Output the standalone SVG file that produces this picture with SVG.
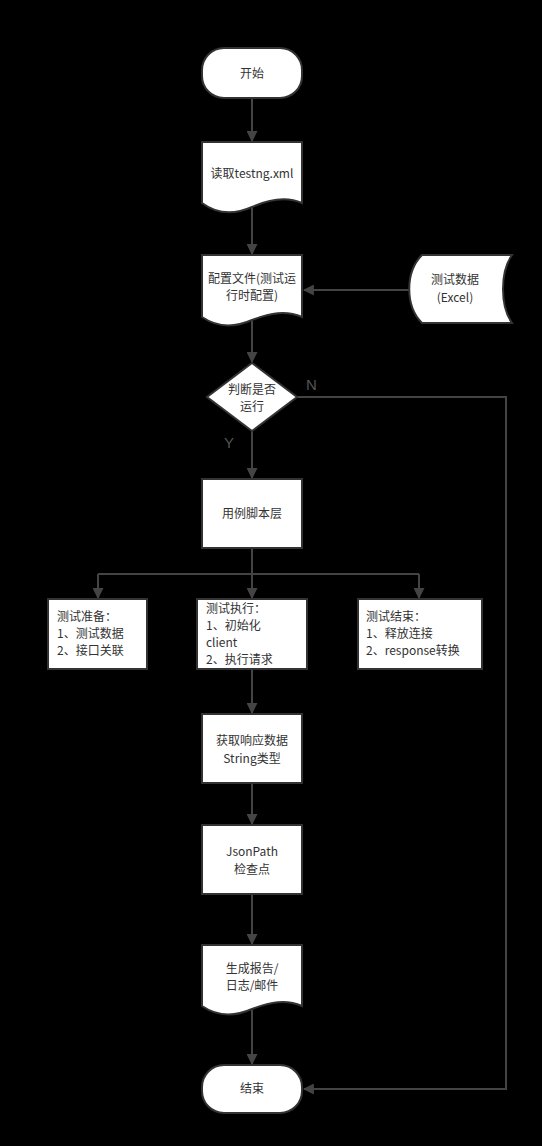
<svg xmlns="http://www.w3.org/2000/svg" width="542" height="1146" viewBox="0 0 542 1146">
<style>
.n{fill:#fff;stroke:#333;stroke-width:2}
.t{font-family:"Noto Sans CJK SC","Liberation Sans",sans-serif;font-size:12px;fill:#333}
.c{text-anchor:middle}
.e{fill:none;stroke:#444;stroke-width:2}
.l{font-family:"Liberation Sans","Noto Sans",sans-serif;font-size:15px;fill:#555}
</style>
<defs>
<marker id="a" viewBox="0 0 10 10" refX="9" refY="5" markerWidth="5.5" markerHeight="5.5" orient="auto" markerUnits="strokeWidth">
<path d="M0,0 L10,5 L0,10 z" fill="#444"/>
</marker>
</defs>
<rect width="542" height="1146" fill="#000"/>
<g id="connectors">
<path class="e" d="M252,98 V141" marker-end="url(#a)"/>
<path class="e" d="M252,208 V254" marker-end="url(#a)"/>
<path class="e" d="M410,290 H304" marker-end="url(#a)"/>
<path class="e" d="M252,321 V362" marker-end="url(#a)"/>
<path class="e" d="M252,431 V478" marker-end="url(#a)"/>
<path class="e" d="M297,397 H506 V1089 H304" marker-end="url(#a)"/>
<path class="e" d="M252,548 V598" marker-end="url(#a)"/>
<path class="e" d="M98,574 H419"/>
<path class="e" d="M98,574 V598" marker-end="url(#a)"/>
<path class="e" d="M419,574 V598" marker-end="url(#a)"/>
<path class="e" d="M252,669 V713" marker-end="url(#a)"/>
<path class="e" d="M252,783 V824" marker-end="url(#a)"/>
<path class="e" d="M252,894 V944" marker-end="url(#a)"/>
<path class="e" d="M252,1010 V1064" marker-end="url(#a)"/>
<text class="l" x="306" y="390">N</text>
<text class="l" x="224" y="448">Y</text>
</g>
<g id="start">
<rect class="n" x="202" y="48" width="100" height="50" rx="22"/>
<text class="t c" x="252" y="78">开始</text>
</g>
<g id="read">
<path class="n" d="M202,142 H302 V203 C286,196 270,199 252,207 C236,214 218,215 202,203 Z"/>
<text class="t c" x="252" y="178">读取testng.xml</text>
</g>
<g id="config">
<path class="n" d="M202,255 H302 V317 C286,310 270,313 252,320 C236,327 218,328 202,317 Z"/>
<text class="t c" x="252" y="283">配置文件(测试运</text>
<text class="t c" x="252" y="300">行时配置)</text>
</g>
<g id="excel">
<path class="n" d="M422,255 H512 C500,272 500,306 512,323 H422 C405,306 405,272 422,255 Z"/>
<text class="t c" x="455" y="284">测试数据</text>
<text class="t c" x="455" y="302">(Excel)</text>
</g>
<g id="decide">
<path class="n" d="M252,363 L297,397 L252,431 L207,397 Z"/>
<text class="t c" x="252" y="394">判断是否</text>
<text class="t c" x="252" y="411">运行</text>
</g>
<g id="script">
<rect class="n" x="202" y="479" width="100" height="69"/>
<text class="t c" x="252" y="518">用例脚本层</text>
</g>
<g id="prep">
<rect class="n" x="48" y="599" width="99" height="70"/>
<text class="t" x="57" y="621">测试准备：</text>
<text class="t" x="57" y="638">1、测试数据</text>
<text class="t" x="57" y="655">2、接口关联</text>
</g>
<g id="exec">
<rect class="n" x="197" y="599" width="110" height="70"/>
<text class="t" x="206" y="613">测试执行：</text>
<text class="t" x="206" y="630">1、初始化</text>
<text class="t" x="206" y="647">client</text>
<text class="t" x="206" y="664">2、执行请求</text>
</g>
<g id="finish">
<rect class="n" x="358" y="599" width="124" height="70"/>
<text class="t" x="366" y="621">测试结束：</text>
<text class="t" x="366" y="638">1、释放连接</text>
<text class="t" x="366" y="655">2、response转换</text>
</g>
<g id="resp">
<rect class="n" x="202" y="714" width="100" height="69"/>
<text class="t c" x="252" y="745">获取响应数据</text>
<text class="t c" x="252" y="763">String类型</text>
</g>
<g id="jsonpath">
<rect class="n" x="202" y="825" width="100" height="69"/>
<text class="t c" x="252" y="856">JsonPath</text>
<text class="t c" x="252" y="874">检查点</text>
</g>
<g id="report">
<path class="n" d="M202,945 H302 V1006 C286,999 270,1002 252,1009 C236,1016 218,1017 202,1006 Z"/>
<text class="t c" x="252" y="973">生成报告/</text>
<text class="t c" x="252" y="990">日志/邮件</text>
</g>
<g id="end">
<rect class="n" x="202" y="1065" width="100" height="48" rx="22"/>
<text class="t c" x="252" y="1093">结束</text>
</g>
</svg>
